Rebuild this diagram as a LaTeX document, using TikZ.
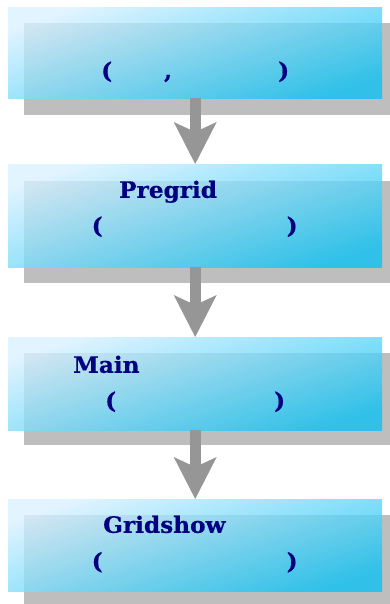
\documentclass[tikz,border=0pt]{standalone}
\usepackage{fontspec}
\usetikzlibrary{arrows.meta}
\newfontfamily\lblfont{DejaVu Serif}[FakeStretch=1.03,FakeBold=0.6]
\definecolor{navy}{HTML}{000080}
\definecolor{shadowgray}{HTML}{BEBEBE}
\definecolor{arrowgray}{HTML}{969696}
\definecolor{boxlight}{HTML}{DAF1FF}
\definecolor{boxmid}{HTML}{A6DCF5}
\definecolor{boxdark}{HTML}{0EC2F3}
\begin{document}
\begin{tikzpicture}[x=1pt,y=-1pt,
  shadowbox/.style={fill=shadowgray, draw=none, inner sep=0pt, anchor=north west, minimum width=366pt},
  frontbox/.style={draw=none, inner sep=0pt, anchor=north west, minimum width=374pt,
    top color=boxlight, middle color=boxmid, bottom color=boxdark, shading angle=18, fill opacity=0.8},
  lbl/.style={text=navy, font=\lblfont\bfseries\fontsize{22.5}{27}\selectfont, inner sep=0pt, anchor=base west},
  flow/.style={draw=arrowgray, line width=11pt,
    -{Stealth[length=42pt,width=43pt,inset=10pt,line width=0pt]}}]
\useasboundingbox (0,0) rectangle (390,604);
% box 1
\node[shadowbox, minimum height=92pt] (s1) at (24,23) {};
\node[frontbox, minimum height=91pt] (b1) at (8,7) {};
% box 2
\node[shadowbox, minimum height=102pt] (s2) at (24,181) {};
\node[frontbox, minimum height=103pt] (b2) at (8,164) {};
% box 3
\node[shadowbox, minimum height=92pt] (s3) at (24,353) {};
\node[frontbox, minimum height=93pt] (b3) at (8,337) {};
% box 4
\node[shadowbox, minimum height=89pt] (s4) at (24,515) {};
\node[frontbox, minimum height=92pt] (b4) at (8,499) {};
% arrows
\draw[flow] (b1.south) -- (b2.north);
\draw[flow] (b2.south) -- (b3.north);
\draw[flow] (b3.south) -- (b4.north);
% labels
\node[lbl] (t1) at (101,78.5) {(\hspace{52pt},\hspace{106pt})};
\node[lbl] (t2a) at (119,197.8) {Pregrid};
\node[lbl] (t2b) at (91.5,233.5) {(\hspace{184pt})};
\node[lbl] (t3a) at (73,372.8) {Main};
\node[lbl] (t3b) at (105,408.5) {(\hspace{158pt})};
\node[lbl] (t4a) at (103,532.8) {Gridshow};
\node[lbl] (t4b) at (91.5,569) {(\hspace{184pt})};
\end{tikzpicture}
\end{document}
